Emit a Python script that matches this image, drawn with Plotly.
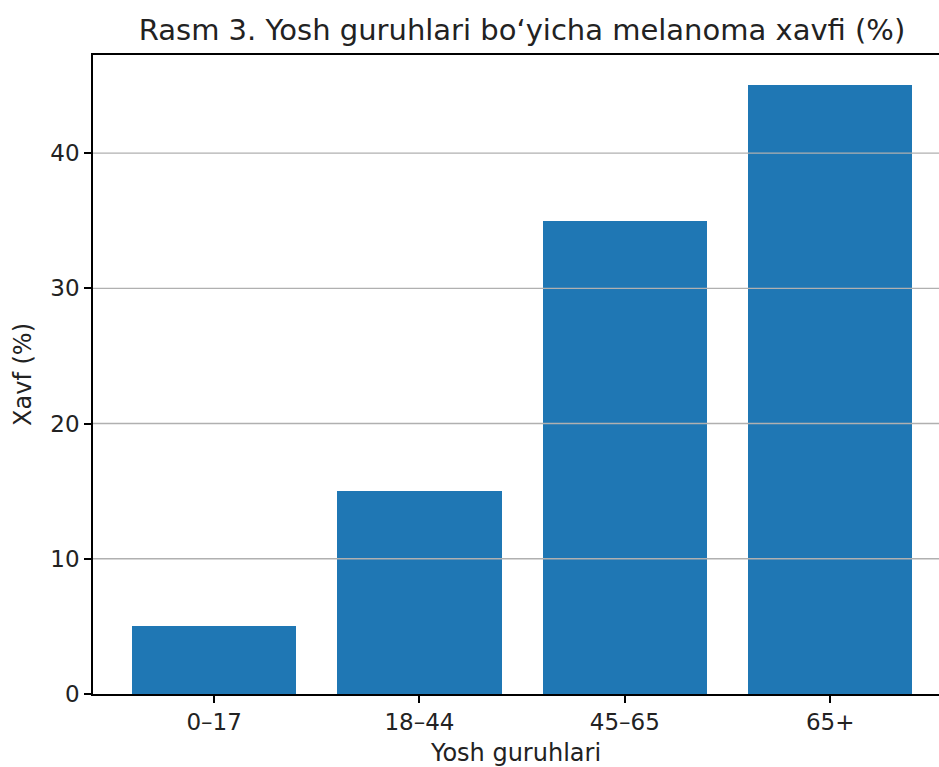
import plotly.graph_objects as go

categories = ["0–17", "18–44", "45–65", "65+"]
risk = [5, 15, 35, 45]
y_ticks = [0, 10, 20, 30, 40]

FONT = "DejaVu Sans"
W, H = 939, 767

fig = go.Figure()
fig.add_trace(go.Bar(
    x=list(range(len(categories))), y=risk, width=0.8,
    marker=dict(color="#1f77b4", line=dict(width=0)),
))

shapes = [
    dict(type="line", xref="paper", yref="y", x0=0, x1=1, y0=t, y1=t,
         line=dict(color="#b0b0b0", width=1.3), layer="above")
    for t in y_ticks[1:]
]

fig.update_layout(
    width=W, height=H,
    margin=dict(l=93, r=0, t=55, b=73, pad=0),
    plot_bgcolor="white", paper_bgcolor="white",
    showlegend=False,
    bargap=0,
    font=dict(family=FONT, size=23, color="#222"),
    title=dict(text="Rasm 3. Yosh guruhlari bo‘yicha melanoma xavfi (%)",
               x=522/W, xanchor="center", xref="container",
               y=1 - 30/H, yanchor="middle", yref="container",
               font=dict(family=FONT, size=29, color="#222")),
    shapes=shapes,
)
fig.update_xaxes(
    range=[-0.59, 3.53],
    tickmode="array", tickvals=list(range(len(categories))), ticktext=categories,
    showline=True, linecolor="black", linewidth=1.5, mirror=True,
    ticks="outside", ticklen=7, tickcolor="black", tickwidth=1.5,
    showgrid=False, zeroline=False,
    title=dict(text="Yosh guruhlari", standoff=13, font=dict(size=24)),
    tickfont=dict(size=23),
)
fig.update_yaxes(
    range=[0, 47.25],
    tickmode="array", tickvals=y_ticks,
    showline=True, linecolor="black", linewidth=1.5,
    ticks="outside", ticklen=7, tickcolor="black", tickwidth=1.5,
    showgrid=False, zeroline=False,
    title=dict(text="Xavf (%)", standoff=12, font=dict(size=24)),
    tickfont=dict(size=23),
)

fig.write_html(
    "out.html",
    config={"displayModeBar": False},
    post_script="document.body.style.margin='0';document.body.style.overflow='hidden';",
)
